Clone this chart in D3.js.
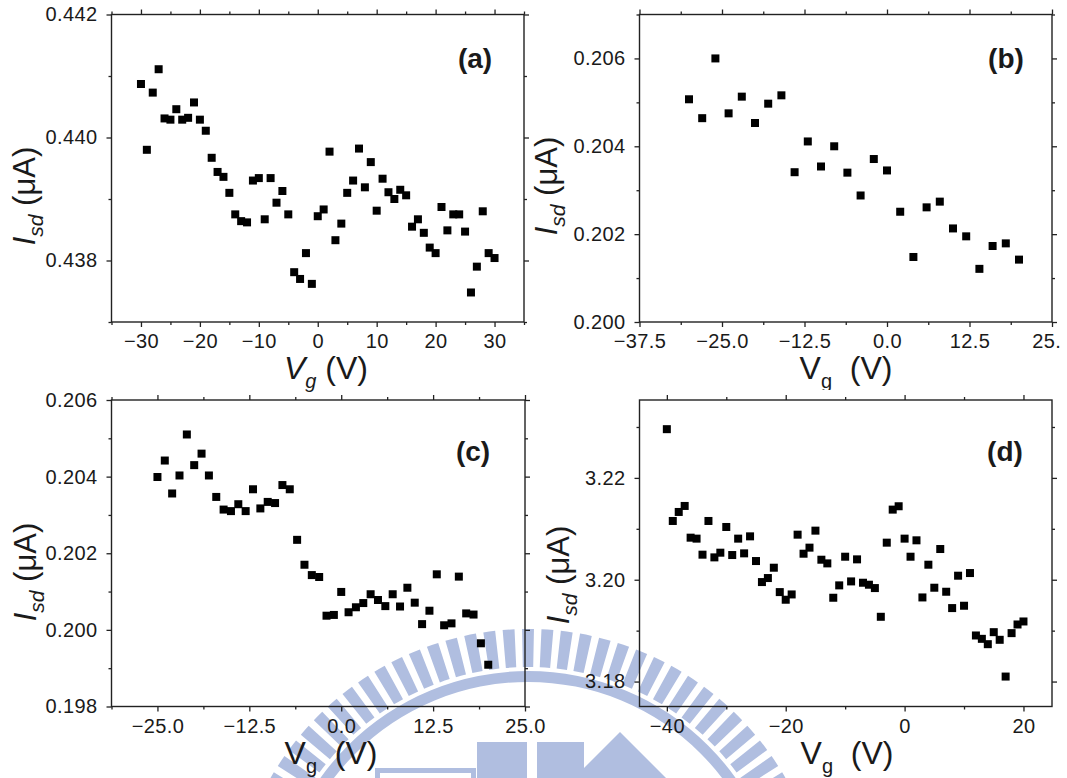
<!DOCTYPE html>
<html><head><meta charset="utf-8">
<script src="https://cdn.jsdelivr.net/npm/d3@7"></script>
<style>
html,body{margin:0;padding:0;background:#fff;}
svg{display:block;}
text{font-family:"Liberation Sans",Arial,sans-serif;fill:#1a1a1a;}
.tick line{stroke:#222;stroke-width:1.3;}
</style></head><body>
<svg id="fig" width="1067" height="778"></svg>
<script>
// ---- (a) source-drain current vs gate voltage, 1 V steps ----
const vgA = [-30,-29,-28,-27,-26,-25,-24,-23,-22,-21,-20,-19,-18,-17,-16,-15,-14,-13,-12,-11,-10,-9,-8,-7,-6,-5,-4,-3,-2,-1,0,1,2,3,4,5,6,7,8,9,10,11,12,13,14,15,16,17,18,19,20,21,22,23,24,25,26,27,28,29,30];
const isdA = [0.44087,0.43980,0.44073,0.44111,0.44031,0.44029,0.44046,0.44029,0.44032,0.44057,0.44029,0.44011,0.43967,0.43944,0.43936,0.43910,0.43875,0.43864,0.43862,0.43930,0.43934,0.43867,0.43934,0.43894,0.43913,0.43875,0.43781,0.43770,0.43812,0.43762,0.43872,0.43883,0.43977,0.43833,0.43860,0.43910,0.43930,0.43982,0.43919,0.43960,0.43881,0.43933,0.43911,0.43900,0.43915,0.43906,0.43855,0.43867,0.43845,0.43821,0.43812,0.43887,0.43849,0.43875,0.43875,0.43847,0.43748,0.43790,0.43880,0.43812,0.43804];

// ---- (b) 2 V steps ----
const vgB = [-30,-28,-26,-24,-22,-20,-18,-16,-14,-12,-10,-8,-6,-4,-2,0,2,4,6,8,10,12,14,16,18,20];
const isdB = [0.20507,0.20464,0.20600,0.20475,0.20513,0.20453,0.20497,0.20516,0.20341,0.20411,0.20354,0.20400,0.20340,0.20288,0.20371,0.20345,0.20251,0.20148,0.20261,0.20274,0.20213,0.20195,0.20121,0.20173,0.20179,0.20142];

// ---- (c) 1 V steps ----
const vgC = [-25,-24,-23,-22,-21,-20,-19,-18,-17,-16,-15,-14,-13,-12,-11,-10,-9,-8,-7,-6,-5,-4,-3,-2,-1,0,1,2,3,4,5,6,7,8,9,10,11,12,13,14,15,16,17,18,19,20];
const isdC = [0.20399,0.20442,0.20356,0.20403,0.20510,0.20430,0.20460,0.20403,0.20347,0.20314,0.20310,0.20328,0.20310,0.20367,0.20317,0.20334,0.20331,0.20378,0.20367,0.20235,0.20170,0.20143,0.20138,0.20037,0.20039,0.20099,0.20046,0.20059,0.20070,0.20093,0.20078,0.20062,0.20093,0.20061,0.20110,0.20071,0.20015,0.20050,0.20145,0.20012,0.20017,0.20139,0.20043,0.20040,0.19965,0.19909];

// ---- (d) 1 V steps ----
const vgD = [-40,-39,-38,-37,-36,-35,-34,-33,-32,-31,-30,-29,-28,-27,-26,-25,-24,-23,-22,-21,-20,-19,-18,-17,-16,-15,-14,-13,-12,-11,-10,-9,-8,-7,-6,-5,-4,-3,-2,-1,0,1,2,3,4,5,6,7,8,9,10,11,12,13,14,15,16,17,18,19,20];
const isdD = [3.22957,3.21154,3.21331,3.21449,3.20826,3.20807,3.20492,3.21154,3.20439,3.20531,3.21036,3.20485,3.20807,3.20518,3.20852,3.20367,3.19954,3.20033,3.20236,3.19757,3.19607,3.19711,3.20885,3.20511,3.20630,3.20964,3.20393,3.20321,3.19646,3.19889,3.20452,3.19967,3.20400,3.19941,3.19902,3.19836,3.19272,3.20728,3.21377,3.21443,3.20807,3.20452,3.20774,3.19652,3.20295,3.19843,3.20603,3.19764,3.19443,3.20079,3.19489,3.20131,3.18905,3.18839,3.18734,3.18970,3.18820,3.18098,3.18951,3.19121,3.19180];

// ---- tick values ----
const xMajorA = [-30,-20,-10,0,10,20,30];
const xMinorA = [-35,-25,-15,-5,5,15,25,35];
const yMajorA = [0.438,0.440,0.442];
const yMinorA = [0.437,0.439,0.441];

const xMajorB = [-37.5,-25,-12.5,0,12.5,25];
const xMinorB = [-31.25,-18.75,-6.25,6.25,18.75];
const yMajorB = [0.200,0.202,0.204,0.206];
const yMinorB = [0.201,0.203,0.205,0.207];

const xMajorC = [-25,-12.5,0,12.5,25];
const xMinorC = [-31.25,-18.75,-6.25,6.25,18.75];
const yMajorC = [0.198,0.200,0.202,0.204,0.206];
const yMinorC = [0.199,0.201,0.203,0.205];

const xMajorD = [-40,-20,0,20];
const xMinorD = [-30,-10,10];
const yMajorD = [3.18,3.20,3.22];
const yMinorD = [3.19,3.21,3.23];

const panelLetters = ["(a)","(b)","(c)","(d)"];

const svg = d3.select("#fig");

// ---- faint university emblem behind the figure ----
const wm = svg.append("g").attr("fill","#b0bee0");
const wmCx = 528, wmCy = 926;
const wmG = wm.append("g").attr("transform",`translate(${wmCx},${wmCy})`);
const toothArc = d3.arc().innerRadius(259).outerRadius(297);
const toothIdx = d3.range(-22, 23);
wmG.selectAll("path.tooth").data(toothIdx).join("path")
  .attr("class","tooth")
  .attr("d", k => toothArc({startAngle:(k*3.75-1.15)*Math.PI/180, endAngle:(k*3.75+1.15)*Math.PI/180}));
wmG.append("path").attr("d", d3.arc().innerRadius(244).outerRadius(255)({startAngle:-Math.PI/2,endAngle:Math.PI/2}));
wm.append("rect").attr("x",477).attr("y",742).attr("width",50).attr("height",40);
wm.append("rect").attr("x",537).attr("y",742).attr("width",47).attr("height",40);
wm.append("path").attr("d","M620,732 L680,792 L620,852 L560,792 Z");
wm.append("rect").attr("x",375).attr("y",768).attr("width",101).attr("height",14);
wm.append("rect").attr("x",380).attr("y",773).attr("width",91).attr("height",10).attr("fill","#fff");

// ---- panel builder ----
function panel(opt){
  const g = svg.append("g");
  if (opt.clip) {
    svg.append("clipPath").attr("id","clip"+opt.key).append("rect")
      .attr("x",opt.clip[0]).attr("y",opt.clip[1]).attr("width",opt.clip[2]).attr("height",opt.clip[3]);
    g.attr("clip-path",`url(#clip${opt.key})`);
  }
  const x = d3.scaleLinear().domain(opt.xDomain).range([opt.x0, opt.x1]);
  const y = d3.scaleLinear().domain(opt.yDomain).range([opt.y1, opt.y0]);

  const mk = (axis, vals, size, fmt) => axis.tickValues(vals).tickSize(size).tickSizeOuter(0).tickPadding(7).tickFormat(fmt);
  const none = () => "";
  const add = (axis, tr) => {
    const a = g.append("g").attr("transform", tr).call(axis);
    a.select(".domain").remove();
    return a;
  };
  // major + minor ticks, mirrored on all four sides, pointing outward
  const bx = add(mk(d3.axisBottom(x), opt.xMajor, 5, d3.format(opt.xFmt)), `translate(0,${opt.y1})`);
  add(mk(d3.axisBottom(x), opt.xMinor, 3, none), `translate(0,${opt.y1})`);
  add(mk(d3.axisTop(x), opt.xMajor, 5, none), `translate(0,${opt.y0})`);
  add(mk(d3.axisTop(x), opt.xMinor, 3, none), `translate(0,${opt.y0})`);
  const ly = add(mk(d3.axisLeft(y), opt.yMajor, 5, d3.format(opt.yFmt)), `translate(${opt.x0},0)`);
  add(mk(d3.axisLeft(y), opt.yMinor, 3, none), `translate(${opt.x0},0)`);
  add(mk(d3.axisRight(y), opt.yMajor, 5, none), `translate(${opt.x1},0)`);
  add(mk(d3.axisRight(y), opt.yMinor, 3, none), `translate(${opt.x1},0)`);
  g.selectAll(".tick text").attr("font-size",20).attr("letter-spacing","0.4px")
    .attr("font-family",'"Liberation Sans",Arial,sans-serif').attr("fill","#1a1a1a");
  bx.selectAll(".tick text").attr("dy","0.7em");
  ly.selectAll(".tick text").attr("dx","-2");

  // frame
  g.append("rect").attr("x",opt.x0).attr("y",opt.y0)
    .attr("width",opt.x1-opt.x0).attr("height",opt.y1-opt.y0)
    .attr("fill","none").attr("stroke","#222").attr("stroke-width",1.4);

  // square markers
  const s = 8;
  g.selectAll("rect.pt").data(opt.vg.map((v,i)=>[v,opt.isd[i]])).join("rect")
    .attr("class","pt")
    .attr("x", d => x(d[0]) - s/2).attr("y", d => y(d[1]) - s/2)
    .attr("width", s).attr("height", s).attr("fill","#000");

  // x axis title
  const xt = g.append("text").attr("x",opt.xtX).attr("y",opt.y1+57)
    .attr("text-anchor","middle").attr("font-size",32);
  xt.append("tspan").text("V").attr("font-style",opt.italicV?"italic":"normal");
  xt.append("tspan").text("g").attr("font-size",20).attr("dy",9).attr("font-style",opt.italicV?"italic":"normal");
  xt.append("tspan").text(opt.italicV ? " (V)" : "\u00a0\u00a0(V)").attr("dy",-9);

  // y axis title
  const yt = g.append("text").attr("transform",`translate(${opt.ytX},${opt.ytY}) rotate(-90)`)
    .attr("text-anchor","middle").attr("font-size",31);
  yt.append("tspan").text("I").attr("font-style","italic");
  yt.append("tspan").text("sd").attr("font-style","italic").attr("font-size",21).attr("dy",8);
  yt.append("tspan").text(" (\u03bcA)").attr("dy",-8);

  // panel letter
  g.append("text").attr("x",opt.lx).attr("y",opt.ly)
    .attr("text-anchor","middle").attr("dominant-baseline","central")
    .attr("font-family",'"Open Sans",sans-serif').attr("font-weight",600).attr("font-size",28)
    .attr("fill","#111").text(opt.letter);
}

panel({key:"a", x0:111.5, x1:524, y0:14.5, y1:322,
  xDomain:[-35,35], yDomain:[0.437,0.442],
  xMajor:xMajorA, xMinor:xMinorA, yMajor:yMajorA, yMinor:yMinorA, xFmt:"d", yFmt:".3f",
  vg:vgA, isd:isdA, italicV:true, xtX:326, ytX:35, ytY:196, lx:475, ly:58, letter:panelLetters[0]});

panel({key:"b", x0:639.5, x1:1052, y0:14.5, y1:322,
  xDomain:[-37.5,25], yDomain:[0.200,0.207],
  xMajor:xMajorB, xMinor:xMinorB, yMajor:yMajorB, yMinor:yMinorB, xFmt:".1f", yFmt:".3f",
  vg:vgB, isd:isdB, italicV:false, xtX:846, ytX:557, ytY:186, lx:1006, ly:58, letter:panelLetters[1],
  clip:[530,0,531,390]});

panel({key:"c", x0:111.5, x1:525, y0:400, y1:706.5,
  xDomain:[-31.25,25], yDomain:[0.198,0.206],
  xMajor:xMajorC, xMinor:xMinorC, yMajor:yMajorC, yMinor:yMinorC, xFmt:".1f", yFmt:".3f",
  vg:vgC, isd:isdC, italicV:false, xtX:331, ytX:36, ytY:572, lx:473, ly:451, letter:panelLetters[2]});

panel({key:"d", x0:639.5, x1:1052, y0:400, y1:706.5,
  xDomain:[-44.6,24.8], yDomain:[3.1751,3.2353],
  xMajor:xMajorD, xMinor:xMinorD, yMajor:yMajorD, yMinor:yMinorD, xFmt:"d", yFmt:".2f",
  vg:vgD, isd:isdD, italicV:false, xtX:847, ytX:569, ytY:575, lx:1005, ly:451, letter:panelLetters[3]});
</script>
</body></html>
